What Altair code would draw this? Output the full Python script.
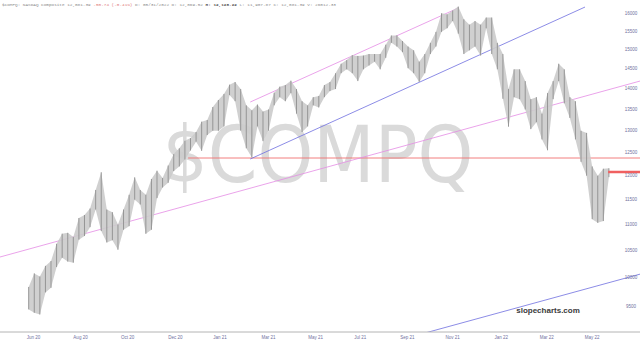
import altair as alt
import pandas as pd

# ---- weekly price bars (week starting Monday), NASDAQ Composite ----
week_start = [
    "2020-06-01","2020-06-08","2020-06-15","2020-06-22","2020-06-29","2020-07-06","2020-07-13","2020-07-20","2020-07-27",
    "2020-08-03","2020-08-10","2020-08-17","2020-08-24","2020-08-31","2020-09-07","2020-09-14","2020-09-21","2020-09-28",
    "2020-10-05","2020-10-12","2020-10-19","2020-10-26","2020-11-02","2020-11-09","2020-11-16","2020-11-23","2020-11-30",
    "2020-12-07","2020-12-14","2020-12-21","2020-12-28","2021-01-04","2021-01-11","2021-01-18","2021-01-25","2021-02-01",
    "2021-02-08","2021-02-15","2021-02-22","2021-03-01","2021-03-08","2021-03-15","2021-03-22","2021-03-29","2021-04-05",
    "2021-04-12","2021-04-19","2021-04-26","2021-05-03","2021-05-10","2021-05-17","2021-05-24","2021-05-31","2021-06-07",
    "2021-06-14","2021-06-21","2021-06-28","2021-07-05","2021-07-12","2021-07-19","2021-07-26","2021-08-02","2021-08-09",
    "2021-08-16","2021-08-23","2021-08-30","2021-09-06","2021-09-13","2021-09-20","2021-09-27","2021-10-04","2021-10-11",
    "2021-10-18","2021-10-25","2021-11-01","2021-11-08","2021-11-15","2021-11-22","2021-11-29","2021-12-06","2021-12-13",
    "2021-12-20","2021-12-27","2022-01-03","2022-01-10","2022-01-17","2022-01-24","2022-01-31","2022-02-07","2022-02-14",
    "2022-02-21","2022-02-28","2022-03-07","2022-03-14","2022-03-21","2022-03-28","2022-04-04","2022-04-11","2022-04-18",
    "2022-04-25","2022-05-02","2022-05-09","2022-05-16","2022-05-23","2022-05-30",
]
week_high = [
    9845,10086,10030,10221,10310,10630,10824,10840,10760,
    11130,11190,11320,11700,12074,11300,11246,11000,11300,
    11600,11965,11700,11600,11930,12108,11950,12220,12470,
    12600,12770,12830,12970,13210,13250,13560,13730,13880,
    14110,14175,14000,13600,13480,13620,13450,13500,13910,
    14060,14100,14211,14000,13700,13600,13800,13830,14100,
    14175,14400,14645,14740,14870,14850,14860,14900,14900,
    14900,15150,15400,15403,15250,15100,15000,14700,14900,
    15200,15500,16020,15990,16100,16212,15850,15700,15800,
    15700,15900,15900,15200,14900,14000,14500,14500,14200,
    13750,13800,13400,13900,14200,14646,14500,13800,13700,
    13000,12950,12200,12000,12150,12160,
]
week_low = [
    9460,9403,9375,9750,9830,10200,10370,10300,10280,
    10710,10780,10950,11300,10876,10656,10700,10519,10900,
    10970,11500,11400,10822,10900,11530,11750,11850,12100,
    12200,12350,12550,12750,12543,12900,13000,13000,13100,
    13850,13700,13003,12600,12397,13100,12760,13000,13600,
    13800,13700,13900,13400,12970,13100,13600,13550,13800,
    13950,14000,14400,14500,14400,14200,14500,14600,14700,
    14500,14800,15200,15100,14950,14530,14400,14180,14400,
    14900,15100,15500,15600,15800,15450,14900,15000,15100,
    14860,15600,14900,14500,13760,13094,13800,13750,13500,
    13037,13200,12800,12555,13750,14200,13650,13300,12800,
    12300,12000,11108,11035,11070,11970,
]

# ---- axis labels ----
y_ticks = [9500,10000,10500,11000,11500,12000,12500,13000,13500,14000,14500,15000,15500,16000]
x_tick_dates = ["2020-06-09","2020-08-07","2020-10-05","2020-12-04","2021-01-29","2021-03-31","2021-05-29",
                "2021-07-24","2021-09-21","2021-11-17","2022-01-17","2022-03-15","2022-05-11"]
x_tick_labels = ["Jun 20","Aug 20","Oct 20","Dec 20","Jan 21","Mar 21","May 21",
                 "Jul 21","Sep 21","Nov 21","Jan 22","Mar 22","May 22"]

# ---- drawn trend lines ----
line_names = ["pink_long", "pink_channel", "blue_channel", "blue_long"]
line_start_date = ["2020-04-28", "2021-03-08", "2021-03-08", "2021-10-13"]
line_start_val = [10384, 13681, 12362, 9070]
line_end_date = ["2022-07-10", "2021-11-24", "2022-05-02", "2022-07-10"]
line_end_val = [14201, 16172, 16200, 10072]
line_colors = ["#e58be5", "#e58be5", "#6f6fe0", "#6f6fe0"]

support_start, support_end, support_val = "2020-12-20", "2022-07-10", 12384
last_close_date0, last_close_date1, last_close = "2022-05-31", "2022-07-10", 12081.39

X_DOMAIN = ["2020-04-28", "2022-07-10"]
Y_DOMAIN = [9087, 16404]

header_parts = ["$COMPQ: NASDAQ Composite 12,081.39 ", "-50.74 (-0.41%) ", "D: 05/31/2022 O: 12,069.52 ",
                "H: 12,128.22 ", "L: 11,907.87 C: 12,081.39 V: 26012.33"]
header_colors = ["#8a8a8a", "#e07878", "#8a8a8a", "#505050", "#8a8a8a"]
header_weights = ["normal", "normal", "normal", "bold", "normal"]


def ms(d):
    return int(pd.Timestamp(d).value // 10**6)


XS = alt.Scale(domain=[ms(d) for d in X_DOMAIN])
YS = alt.Scale(type="log", domain=Y_DOMAIN, nice=False)


def X(field):
    return alt.X(field, type="quantitative", scale=XS, axis=None)


def Y(field):
    return alt.Y(field, type="quantitative", scale=YS, axis=None)


bars = pd.DataFrame({
    "date": [ms(pd.Timestamp(d) + pd.Timedelta(days=2)) for d in week_start],
    "high": week_high,
    "low": week_low,
})

rows = []
for n, sd, sv, ed, ev, c in zip(line_names, line_start_date, line_start_val, line_end_date, line_end_val, line_colors):
    rows.append({"name": n, "date": ms(sd), "v": sv, "c": c})
    rows.append({"name": n, "date": ms(ed), "v": ev, "c": c})
lines_df = pd.DataFrame(rows)

base_bars = alt.Chart(bars).encode(x=X("date"), y=Y("low"), y2="high")
band = base_bars.mark_area(color="#cbcbcb", opacity=0.9, clip=True)
bar_rule = base_bars.mark_rule(color="#959595", strokeWidth=1.0, clip=True)

trend = alt.Chart(lines_df).mark_line(strokeWidth=0.8, clip=True).encode(
    x=X("date"), y=Y("v"), detail="name:N", color=alt.Color("c:N", scale=None, legend=None),
)

support = alt.Chart(pd.DataFrame({"d0": [ms(support_start)], "d1": [ms(support_end)], "v": [support_val]})).mark_rule(
    color="#f07070", strokeWidth=0.9, clip=True).encode(x=X("d0"), x2="d1", y=Y("v"))

price_mark = alt.Chart(pd.DataFrame({"d0": [ms(last_close_date0)], "d1": [ms(last_close_date1)], "v": [last_close]})).mark_rule(
    color="#f06060", strokeWidth=2.5, clip=True).encode(x=X("d0"), x2="d1", y=Y("v"))

ylabels = alt.Chart(pd.DataFrame({"v": y_ticks, "lab": [str(v) for v in y_ticks]})).mark_text(
    fontSize=4.5, color="#7070a0", font="Liberation Sans", align="center", baseline="middle").encode(
    x=alt.value(631), y=Y("v"), text="lab:N")

xlabels = alt.Chart(pd.DataFrame({"d": [ms(d) for d in x_tick_dates], "lab": x_tick_labels})).mark_text(
    fontSize=4.5, color="#7070a0", font="Liberation Sans", align="center", baseline="middle").encode(
    x=X("d"), y=alt.value(337.5), text="lab:N")

axis_line = alt.Chart(pd.DataFrame({"k": [0]})).mark_rule(color="#b4b4b4", strokeWidth=1).encode(
    x=alt.value(0), x2=alt.value(640), y=alt.value(332))

watermark = alt.Chart(pd.DataFrame({"t": ["$COMPQ"]})).mark_text(
    fontSize=79, color="#dadada", font="Liberation Sans Narrow, DejaVu Sans Condensed, Liberation Sans",
    align="center", baseline="middle").encode(
    x=alt.value(318), y=alt.value(158), text="t:N")

brand = alt.Chart(pd.DataFrame({"t": ["slopecharts.com"]})).mark_text(
    fontSize=8, color="#3a3a3a", font="Liberation Sans", fontWeight="bold", align="center", baseline="middle").encode(
    x=alt.value(548), y=alt.value(311), text="t:N")

HFS = 4.35
hdr = []
pos = 2.0
for t, c, w in zip(header_parts, header_colors, header_weights):
    hdr.append(alt.Chart(pd.DataFrame({"t": [t]})).mark_text(
        fontSize=HFS, color=c, font="Liberation Mono", fontWeight=w, align="left", baseline="middle").encode(
        x=alt.value(pos), y=alt.value(5), text="t:N"))
    pos += len(t) * 0.6 * HFS

chart = alt.layer(
    watermark, support, trend, band, bar_rule, price_mark, ylabels, xlabels, axis_line, brand, *hdr
).properties(
    width=640, height=332,
    autosize=alt.AutoSizeParams(type="none"),
    padding={"left": 0, "top": 0, "right": 0, "bottom": 11},
).configure_view(strokeWidth=0)

chart.save("out.html", embed_options={"renderer": "svg", "actions": False})
